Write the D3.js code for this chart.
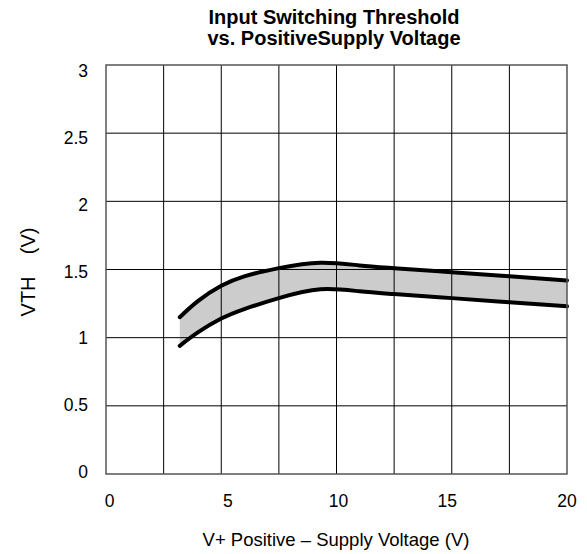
<!DOCTYPE html>
<html>
<head>
<meta charset="utf-8">
<script src="https://cdn.jsdelivr.net/npm/d3@7"></script>
<style>
  body { margin: 0; background: #fff; }
  text { font-family: "Liberation Sans", Arial, sans-serif; fill: #000; }
</style>
</head>
<body>
<svg id="chart" width="587" height="554"></svg>
<script>
// data
var supply = [3.2, 4, 5, 6, 7.5, 9.3, 11, 12.5, 15, 17.5, 20]
var vthHigh = [1.15, 1.27, 1.38, 1.45, 1.51, 1.55, 1.53, 1.51, 1.48, 1.45, 1.42]
var vthLow = [0.94, 1.04, 1.14, 1.21, 1.29, 1.355, 1.34, 1.32, 1.29, 1.26, 1.23]
var xTicks = [0, 5, 10, 15, 20]
var yTicks = [0, 0.5, 1, 1.5, 2, 2.5, 3]

var svg = d3.select("#chart")
var pLeft = 106, pRight = 567, pTop = 65, pBottom = 474

var x = d3.scaleLinear().domain([0, 20]).range([pLeft, pRight])
var y = d3.scaleLinear().domain([0, 3]).range([pBottom, pTop])
// the printed tick numbers don't sit exactly on the grid in the original
var yLab = d3.scaleLinear().domain([0, 3]).range([478, 77])
var xNudge = {0: 3.5, 5: 6.5, 10: 2, 15: -4.5, 20: 0}

var pts = supply.map((v, i) => ({v: v, hi: vthHigh[i], lo: vthLow[i]}))
var curve = d3.curveNatural

// band
svg.append("path")
  .datum(pts)
  .attr("fill", "#cccccc")
  .attr("d", d3.area().curve(curve)
    .x(d => x(d.v)).y0(d => y(d.lo)).y1(d => y(d.hi)))

// grid
var grid = svg.append("g")
d3.range(2.5, 20, 2.5).forEach(v => {
  grid.append("line")
    .attr("x1", x(v)).attr("x2", x(v))
    .attr("y1", pTop).attr("y2", pBottom)
    .attr("stroke", "#000").attr("stroke-width", 1)
})
d3.range(0.5, 3, 0.5).forEach(v => {
  grid.append("line")
    .attr("x1", pLeft).attr("x2", pRight)
    .attr("y1", y(v)).attr("y2", y(v))
    .attr("stroke", "#000").attr("stroke-width", 1)
})

// curves
var line = d3.line().curve(curve).x(d => x(d.v))
svg.append("path").datum(pts)
  .attr("fill", "none").attr("stroke", "#000").attr("stroke-width", 4)
  .attr("stroke-linecap", "round")
  .attr("d", line.y(d => y(d.hi)))
svg.append("path").datum(pts)
  .attr("fill", "none").attr("stroke", "#000").attr("stroke-width", 4)
  .attr("stroke-linecap", "round")
  .attr("d", line.y(d => y(d.lo)))

// frame
svg.append("rect")
  .attr("x", pLeft).attr("y", pTop)
  .attr("width", pRight - pLeft).attr("height", pBottom - pTop)
  .attr("fill", "none").attr("stroke", "#555").attr("stroke-width", 1.5)

// tick labels
svg.append("g").selectAll("text").data(xTicks).join("text")
  .attr("x", d => x(d) + xNudge[d])
  .attr("y", 507)
  .attr("text-anchor", "middle")
  .attr("font-size", 17.5)
  .text(d => d)

svg.append("g").selectAll("text").data(yTicks).join("text")
  .attr("x", 88)
  .attr("y", d => yLab(d))
  .attr("text-anchor", "end")
  .attr("font-size", 17.5)
  .text(d => d)

// titles
svg.append("text").attr("x", 334).attr("y", 24)
  .attr("text-anchor", "middle").attr("font-size", 20).attr("font-weight", "bold")
  .text("Input Switching Threshold")
svg.append("text").attr("x", 334).attr("y", 45)
  .attr("text-anchor", "middle").attr("font-size", 20).attr("font-weight", "bold")
  .text("vs. PositiveSupply Voltage")

svg.append("text").attr("x", 336).attr("y", 546)
  .attr("text-anchor", "middle").attr("font-size", 18.5)
  .text("V+ Positive – Supply Voltage (V)")

svg.append("text")
  .attr("transform", "translate(35,272) rotate(-90)")
  .attr("text-anchor", "middle").attr("font-size", 20)
  .attr("xml:space", "preserve")
  .text("VTH    (V)")
</script>
</body>
</html>
